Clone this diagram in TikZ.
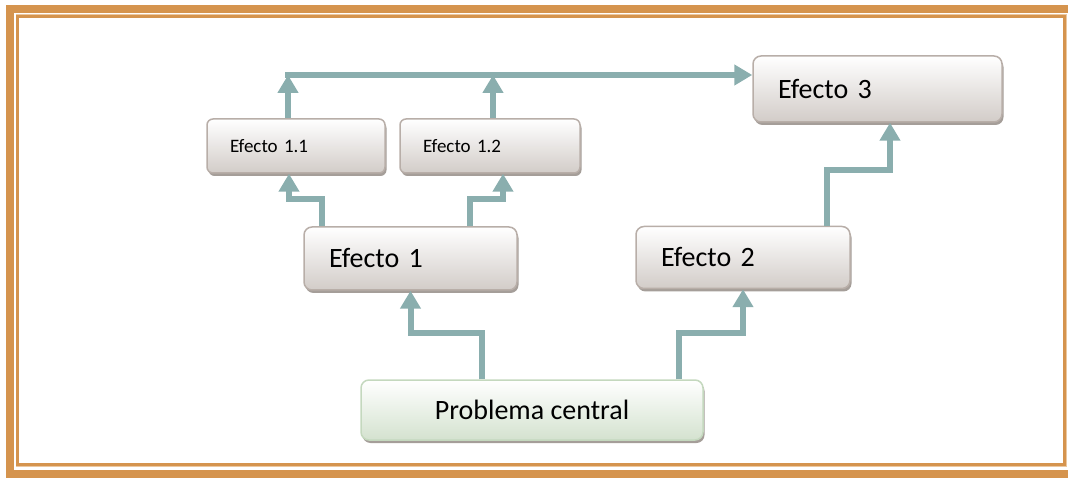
\documentclass[tikz,border=0pt]{standalone}
\usepackage{fontspec}
\setmainfont{Carlito}
\usepackage{tikz}
\usetikzlibrary{arrows.meta,shadows,positioning}
\definecolor{framecol}{RGB}{213,148,78}
\definecolor{framelight}{RGB}{236,200,160}
\definecolor{flowcol}{RGB}{138,174,174}
\definecolor{boxline}{RGB}{184,174,168}
\definecolor{boxgray}{RGB}{210,204,200}
\definecolor{boxshade}{RGB}{165,158,153}
\definecolor{pcline}{RGB}{196,216,190}
\definecolor{pcgreen}{RGB}{212,226,207}

\begin{document}
\begin{tikzpicture}[x=1pt, y=1pt,
    box style/.style={rectangle, rounded corners=8pt, draw=boxline, line width=1.5pt, top color=white, bottom color=boxgray, drop shadow={shadow xshift=1.5pt, shadow yshift=-3pt, fill=boxshade, opacity=1}, inner ysep=0pt, align=left},
    big box/.style={box style, font=\fontsize{28}{32}\selectfont, inner xsep=25pt},
    small box/.style={box style, rounded corners=6pt, font=\fontsize{19}{22}\selectfont, inner xsep=23pt},
    center box/.style={big box, draw=pcline, top color=white, bottom color=pcgreen, align=center},
    flow/.style={draw=flowcol, line width=6pt, -{Triangle[width=20pt,length=18pt]}}
]
\useasboundingbox (0,0) rectangle (1068,477);
\clip (0,0) rectangle (1068,477);
\draw[framecol, line width=8pt] (10,3) rectangle (1075,468);
\draw[framelight, line width=1pt] (16,11) rectangle (1066,462);
\draw[framecol, line width=2.5pt] (17.5,12.5) rectangle (1064.5,460.5);

\node[small box, text width=132pt, minimum height=54pt] (e11) at (296,331) {Efecto 1.1};
\node[small box, text width=134pt, minimum height=54pt] (e12) at (490,331) {Efecto 1.2};
\node[big box, text width=199pt, minimum height=66pt] (e3) at (877.5,388) {Efecto 3};
\node[big box, text width=163pt, minimum height=63pt] (e1) at (410.5,218.5) {Efecto 1};
\node[big box, text width=164pt, minimum height=62pt] (e2) at (743,219.5) {Efecto 2};
\node[center box, minimum width=342pt, minimum height=60pt] (pc) at (532,67) {Problema central};
\coordinate (top) at (285,402);

\draw[flow] ([xshift=-50pt]pc.north) -- ++(0,46) -| (e1.south);
\draw[flow] ([xshift=147pt]pc.north) -- ++(0,46) -| (e2.south);
\draw[flow] ([xshift=-88.5pt]e1.north) -- ++(0,27) -| ([xshift=-7pt]e11.south);
\draw[flow] ([xshift=59.5pt]e1.north) -- ++(0,27) -| ([xshift=13pt]e12.south);
\draw[flow] ([xshift=-8pt]e11.north) -- ([xshift=-8pt]e11.north |- top);
\draw[flow] ([xshift=3pt]e12.north) -- ([xshift=3pt]e12.north |- top);
\draw[flow] (top) -- (top -| e3.west);
\draw[flow] ([xshift=84pt]e2.north) -- ++(0,56) -| ([xshift=12.5pt]e3.south);
\end{tikzpicture}
\end{document}
